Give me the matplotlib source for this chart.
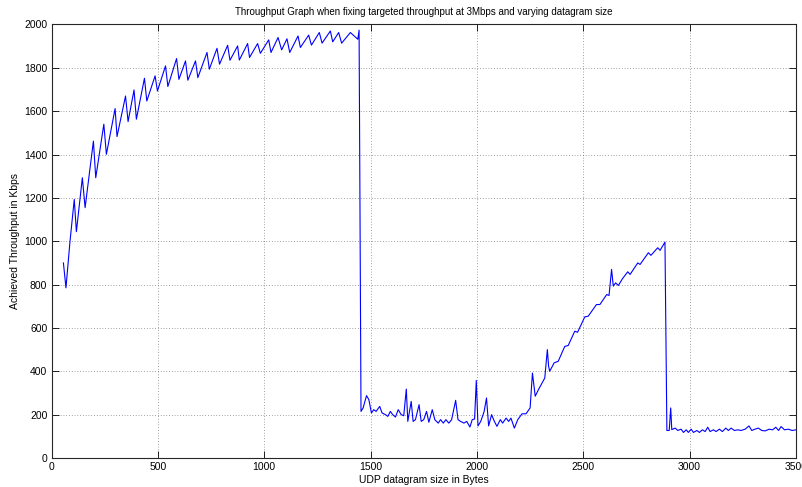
import matplotlib
matplotlib.use("Agg")
import matplotlib.pyplot as plt
import numpy as np

plt.rcParams['font.family'] = ['Liberation Sans', 'DejaVu Sans']

# --- data (vertices of the trace) ---
rise_x = [56, 68, 87, 107, 117, 145, 158, 197, 208, 246, 258, 299, 308, 348, 360, 388, 399,
          437, 448, 487, 498, 536, 547, 588, 599, 630, 641, 677, 688, 731, 742, 778, 790,
          828, 839, 875, 883, 922, 931, 969, 982, 1021, 1032, 1065, 1082, 1107, 1120, 1159,
          1170, 1209, 1222, 1259, 1272, 1311, 1322, 1350, 1364, 1405, 1440, 1446]
rise_y = [900, 785, 1000, 1193, 1044, 1293, 1155, 1462, 1293, 1540, 1401, 1612, 1483, 1670,
          1552, 1698, 1563, 1752, 1647, 1763, 1693, 1809, 1714, 1843, 1747, 1832, 1743, 1832,
          1755, 1871, 1794, 1890, 1817, 1904, 1835, 1901, 1836, 1912, 1848, 1912, 1867, 1929,
          1871, 1940, 1883, 1934, 1871, 1947, 1894, 1951, 1905, 1963, 1914, 1970, 1920, 1963,
          1914, 1963, 1932, 1974]

mid_x = [1455, 1465, 1481, 1492, 1504, 1515, 1526, 1543, 1554, 1570, 1581, 1593, 1604, 1617,
         1630, 1644, 1656, 1668, 1675, 1683, 1691, 1700, 1711, 1728, 1738, 1750, 1763, 1774,
         1790, 1802, 1818, 1829, 1842, 1854, 1868, 1881, 1900, 1911, 1923, 1939, 1952, 1967,
         1978, 1989, 1997, 2005, 2018, 2034, 2045, 2055, 2069, 2082, 2094, 2110, 2121, 2137,
         2149, 2160, 2176, 2192, 2212, 2231, 2250, 2261, 2274, 2289, 2319, 2331, 2337, 2342,
         2363, 2382, 2413, 2429, 2460, 2473, 2507, 2523, 2562, 2578, 2610, 2621, 2633, 2641,
         2652, 2665, 2684, 2709, 2720, 2756, 2767, 2806, 2818, 2850, 2861, 2884]
mid_y = [215, 231, 288, 269, 208, 223, 215, 238, 208, 200, 192, 215, 200, 189, 223, 200, 195,
         318, 169, 215, 261, 169, 177, 246, 169, 177, 215, 165, 223, 177, 161, 177, 161, 177,
         161, 177, 266, 177, 169, 161, 169, 143, 177, 180, 358, 148, 169, 215, 277, 148, 200,
         169, 146, 177, 161, 184, 169, 184, 138, 177, 204, 204, 231, 392, 285, 315, 369, 500,
         423, 400, 439, 446, 515, 519, 585, 580, 651, 654, 708, 708, 754, 750, 870, 793, 808,
         796, 827, 859, 847, 900, 893, 947, 935, 970, 958, 996]

tail_x = [2893, 2904, 2911, 2916, 2932, 2944, 2960, 2971, 2984, 2994, 3007, 3018, 3034, 3046,
          3060, 3073, 3085, 3096, 3112, 3124, 3140, 3154, 3170, 3182, 3195, 3210, 3226, 3242,
          3261, 3279, 3292, 3307, 3323, 3339, 3355, 3374, 3390, 3405, 3418, 3430, 3446, 3465,
          3481, 3500]
tail_y = [127, 127, 231, 131, 138, 127, 133, 118, 130, 118, 133, 118, 127, 118, 130, 122, 142,
          122, 130, 122, 133, 122, 138, 127, 138, 127, 130, 127, 133, 148, 127, 133, 138, 127,
          125, 133, 130, 142, 127, 145, 130, 133, 127, 130]

x_ticks = [0, 500, 1000, 1500, 2000, 2500, 3000, 3500]
y_ticks = [0, 200, 400, 600, 800, 1000, 1200, 1400, 1600, 1800, 2000]

x = np.array(rise_x + mid_x + tail_x)
y = np.array(rise_y + mid_y + tail_y)

fig = plt.figure(figsize=(8.02, 4.87), dpi=100)
ax = fig.add_axes([51.5 / 802, 29 / 487, (796 - 51.5) / 802, (458.5 - 25) / 487])
ax.plot(x, y, color='#0000ff', linewidth=0.8)

ax.set_xlim(0, 3500)
ax.set_ylim(0, 2000)
ax.set_xticks(x_ticks)
ax.set_yticks(y_ticks)
ax.set_xticklabels([str(v) for v in x_ticks])
ax.set_yticklabels([str(v) for v in y_ticks])
ax.tick_params(direction='in', length=5, width=0.6, labelsize=7.5, top=True, right=True,
               pad=3)
ax.grid(True, color='0.3', linestyle=(0, (1, 3)), linewidth=0.5)
for s in ax.spines.values():
    s.set_linewidth(0.8)
    s.set_color('0.15')

ax.set_title('Throughput Graph when fixing targeted throughput at 3Mbps and varying datagram size',
             fontsize=7, pad=7)
ax.set_xlabel('UDP datagram size in Bytes', fontsize=7.5, labelpad=2)
ax.set_ylabel('Achieved Throughput in Kbps', fontsize=7.5, labelpad=3)

fig.savefig('out.png', dpi=100)
